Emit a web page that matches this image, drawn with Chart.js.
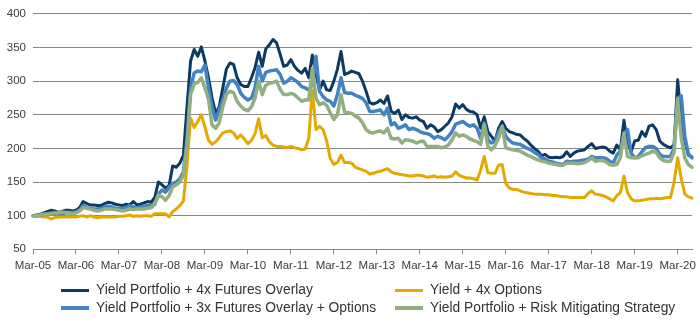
<!DOCTYPE html>
<html><head><meta charset="utf-8">
<script src="https://cdn.jsdelivr.net/npm/chart.js@4/dist/chart.umd.min.js"></script>
<style>
html,body{margin:0;padding:0;background:#fff;}
#wrap{position:relative;width:700px;height:328px;overflow:hidden;}
#c{position:absolute;left:0;top:0;}
.leg{position:absolute;font-family:"Liberation Sans",Arial,sans-serif;font-size:13.8px;color:#333;white-space:nowrap;line-height:18px;height:18px;}
</style></head>
<body><div id="wrap"><canvas id="c" width="700" height="328"></canvas></div>
<script>
// ---- data (monthly, Mar-05 .. Jul-20) ----
const monthNames = ['Jan','Feb','Mar','Apr','May','Jun','Jul','Aug','Sep','Oct','Nov','Dec'];
const xTickLabels = ['Mar-05','Mar-06','Mar-07','Mar-08','Mar-09','Mar-10','Mar-11','Mar-12','Mar-13','Mar-14','Mar-15','Mar-16','Mar-17','Mar-18','Mar-19','Mar-20'];
const yTickValues = [50,100,150,200,250,300,350,400];

const seriesNames = [
  'Yield Portfolio + 4x Futures Overlay',
  'Yield + 4x Options',
  'Yield Portfolio + 3x Futures Overlay + Options',
  'Yield Portfolio + Risk Mitigating Strategy'
];

const futures4x = [
100,101,102,104,106,108,107,105,106,108,108,107,
108,112,121,118,116,116,115,115,118,120,119,117,
116,115,117,116,121,116,117,119,121,120,127,150,
146,141,145,174,172,178,190,262,330,347,337,351,
330,305,275,252,262,290,318,327,325,305,295,292,
292,305,320,343,322,348,354,362,357,340,322,324,
332,322,316,312,319,305,339,310,287,300,287,286,
300,318,344,310,312,315,313,311,300,285,268,266,
268,272,267,278,255,252,257,243,250,246,245,247,
242,240,230,235,232,225,228,233,238,247,266,260,
265,258,255,254,250,230,247,225,218,211,230,240,
230,225,223,221,220,215,211,205,200,196,189,191,
187,186,187,186,188,195,188,193,196,197,198,203,
207,200,201,202,201,196,193,205,198,242,208,195,
211,212,225,218,233,235,228,211,206,203,201,205,
302,245,211,190,187];

const options4x = [
100,99,99,98,98,95,97,98,98,98,98,98,
98,99,100,98,100,98,97,98,98,98,98,98,
99,99,100,101,99,100,99,100,100,99,103,103,
103,103,98,106,110,115,122,175,245,231,240,250,
232,212,206,210,216,223,225,226,223,215,220,214,
207,212,222,244,216,219,210,205,203,203,202,201,
203,201,200,198,199,215,287,228,233,228,211,185,
176,179,190,179,179,178,172,170,168,166,162,163,
165,166,168,170,165,163,162,161,160,159,159,160,
160,159,157,158,159,157,158,157,158,159,165,160,
158,156,156,155,153,168,188,164,163,163,175,176,
148,141,139,139,137,135,134,133,132,132,132,131,
131,130,130,129,128,128,127,127,127,127,127,133,
137,132,131,130,128,125,122,130,134,159,134,125,
122,122,123,124,125,125,126,125,126,127,127,150,
186,155,132,128,126];

const futures3xOptions = [
100,100,101,102,103,104,104,103,103,104,105,104,
106,108,115,112,111,110,110,111,113,114,113,111,
110,111,112,115,113,112,113,114,115,115,117,132,
138,135,142,148,150,155,165,215,290,312,315,314,
324,290,262,242,258,272,290,300,301,295,282,276,
272,275,290,322,300,313,315,316,317,310,297,300,
305,302,298,292,290,287,295,337,285,277,272,270,
263,280,305,283,282,282,279,277,274,268,255,255,
256,257,250,260,235,238,230,232,235,228,230,228,
225,223,222,220,215,218,216,213,218,225,236,238,
240,236,233,235,230,215,238,213,208,211,225,233,
218,212,208,207,206,203,200,198,194,191,186,184,
181,180,178,177,176,181,180,181,181,182,183,184,
188,186,186,186,185,181,178,190,196,222,228,193,
186,188,195,201,203,203,200,191,188,188,188,200,
275,278,217,192,186];

const riskMitigating = [
100,100,101,102,102,103,104,104,105,105,104,103,
104,107,112,111,110,108,107,108,110,110,110,109,
108,107,108,110,109,110,110,110,111,112,117,131,
128,123,130,143,146,150,160,205,280,296,298,305,
290,273,235,230,238,262,280,285,283,270,263,258,
256,262,275,300,280,294,297,298,300,288,280,280,
282,280,275,270,272,272,319,275,265,268,264,253,
243,250,280,254,253,252,248,245,238,228,224,223,
225,226,223,230,215,214,215,208,213,212,211,208,
210,211,203,203,203,203,201,202,205,213,223,218,
220,218,214,212,210,206,235,203,198,204,215,233,
201,199,198,197,196,193,190,188,185,183,181,180,
178,177,176,175,175,178,178,178,177,178,179,182,
186,181,182,182,180,176,175,176,186,223,188,186,
186,186,189,191,193,196,194,186,182,181,181,195,
274,216,186,176,172];

// month category labels
const categories = [];
for (let m = 0; m < futures4x.length; m++) {
  const mi = (2 + m) % 12;
  const yr = 2005 + Math.floor((2 + m) / 12);
  categories.push(monthNames[mi] + '-' + String(yr).slice(2));
}

const colors = ['#0c3a63', '#e3a900', '#4283c3', '#91af80'];
const widths = [3, 3, 3.5, 3.5];
const drawOrder = [3, 2, 1, 0];
const seriesData = [futures4x, options4x, futures3xOptions, riskMitigating];

const FONT = '"Liberation Sans", Arial, sans-serif';
const GRID = '#878787';
const TEXT = '#3b3b3b';

new Chart(document.getElementById('c'), {
  type: 'line',
  data: {
    labels: categories,
    datasets: seriesData.map((d, i) => ({
      label: seriesNames[i],
      data: d,
      borderColor: colors[i],
      backgroundColor: colors[i],
      borderWidth: widths[i],
      pointRadius: 0,
      tension: 0,
      borderJoinStyle: 'round',
      borderCapStyle: 'round',
      order: drawOrder[i],
      fill: false
    }))
  },
  options: {
    responsive: false,
    devicePixelRatio: 1,
    animation: false,
    layout: { padding: { top: 12, right: 8, bottom: 58.7, left: 0 } },
    plugins: { legend: { display: false }, tooltip: { enabled: false } },
    scales: {
      x: {
        type: 'category',
        offset: false,
        grid: {
          drawOnChartArea: false,
          drawTicks: true,
          tickLength: 5,
          lineWidth: 1,
          tickColor: (ctx) => (xTickLabels.includes(categories[ctx.index]) ? GRID : 'rgba(0,0,0,0)'),
          color: GRID
        },
        border: { display: true, color: GRID, width: 1 },
        ticks: {
          autoSkip: false,
          maxRotation: 0,
          minRotation: 0,
          padding: 5,
          color: TEXT,
          font: { family: FONT, size: 11.5 },
          callback: function (v, i) {
            const l = categories[i];
            return xTickLabels.includes(l) ? l : '';
          }
        },
        afterFit: (s) => { s.height = 20; }
      },
      y: {
        min: 50,
        max: 400,
        afterBuildTicks: (s) => { s.ticks = yTickValues.map(v => ({ value: v })); },
        grid: { drawTicks: false, color: GRID, lineWidth: 1 },
        border: { display: false },
        ticks: {
          padding: 7,
          color: TEXT,
          font: { family: FONT, size: 11.5 }
        },
        afterFit: (s) => { s.width = 33; }
      }
    }
  }
});

// ---- legend (two columns, row-major like the reference) ----
const legendPos = [
  { lx: 61, tx: 96, cy: 290 },
  { lx: 395, tx: 430, cy: 290 },
  { lx: 61, tx: 96, cy: 308 },
  { lx: 395, tx: 430, cy: 308 }
];
const wrap = document.getElementById('wrap');
seriesNames.forEach((name, i) => {
  const p = legendPos[i];
  const sw = document.createElement('div');
  sw.style.cssText = `position:absolute;left:${p.lx}px;top:${p.cy - widths[i] / 2}px;width:28px;height:${widths[i]}px;background:${colors[i]};`;
  wrap.appendChild(sw);
  const t = document.createElement('div');
  t.className = 'leg';
  t.style.left = p.tx + 'px';
  t.style.top = (p.cy - 9) + 'px';
  t.textContent = name;
  wrap.appendChild(t);
});
</script>
</body></html>
